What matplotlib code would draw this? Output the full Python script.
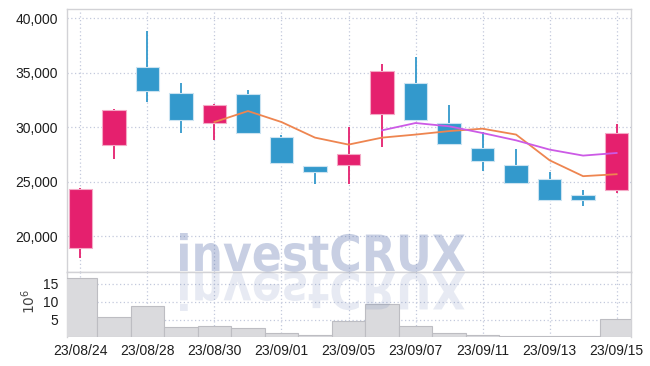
import matplotlib
matplotlib.use("Agg")
import matplotlib.pyplot as plt
from matplotlib.textpath import TextPath
from matplotlib.patches import PathPatch
from matplotlib.font_manager import FontProperties
from matplotlib.transforms import Affine2D

# datos
dates = ["23/08/24", "23/08/25", "23/08/28", "23/08/29", "23/08/30", "23/08/31",
         "23/09/01", "23/09/04", "23/09/05", "23/09/06", "23/09/07", "23/09/08",
         "23/09/11", "23/09/12", "23/09/13", "23/09/14", "23/09/15"]
opens = [18950, 28350, 35500, 33100, 30400, 33000, 29100, 26450, 26550,
         31200, 34050, 30400, 28100, 26500, 25200, 23750, 24250]
closes = [24350, 31600, 33300, 30700, 32000, 29450, 26700, 25850, 27500,
          35150, 30700, 28450, 26900, 24900, 23350, 23350, 29500]
highs = [24400, 31650, 38800, 34100, 32150, 33450, 29250, 26450, 30000,
         35800, 36400, 32000, 29600, 28000, 25900, 24200, 30250]
lows = [17950, 27050, 32300, 29500, 28800, 29450, 26700, 24750, 24800,
        28200, 30600, 28400, 25950, 24850, 23330, 22750, 23950]
volumes = [16.6, 5.8, 8.7, 2.9, 3.2, 2.6, 1.2, 0.6, 4.6,
           9.4, 3.1, 1.3, 0.6, 0.55, 0.35, 0.35, 5.1]  # x 10^6
ma5 = [None, None, None, None, 30470, 31480, 30470, 29040, 28400,
       29040, 29320, 29640, 29860, 29320, 26960, 25500, 25680]
ma10 = [None] * 9 + [29710, 30380, 30080, 29460, 28790, 27940, 27390, 27630]

price_ticks = [20000, 25000, 30000, 35000, 40000]
vol_ticks = [5, 10, 15]

UP = "#E5206E"
DOWN = "#3399CC"
GRID = "#C3C9DC"
SPINE = "#D2D2D6"
TXT = "#1E1E1E"
FONT = ["Liberation Sans", "DejaVu Sans"]

fig = plt.figure(figsize=(6.5, 3.66), dpi=100)
ax = fig.add_axes([0.1026, 0.2568, 0.8682, 0.7186])
axv = fig.add_axes([0.1026, 0.0779, 0.8682, 0.1789], sharex=ax)

x = list(range(len(dates)))
colors = [UP if c >= o else DOWN for o, c in zip(opens, closes)]
edges = ["#F4A9C6" if c >= o else "#CBE3F1" for o, c in zip(opens, closes)]

# velas
ax.vlines(x, lows, highs, colors=colors, linewidth=1.3, zorder=3)
bottoms = [min(o, c) for o, c in zip(opens, closes)]
heights = [abs(c - o) for o, c in zip(opens, closes)]
ax.bar(x, heights, bottom=bottoms, width=0.7, color=colors,
       edgecolor=edges, linewidth=0.8, zorder=4)

# medias móviles
xi5 = [i for i, v in enumerate(ma5) if v is not None]
ax.plot(xi5, [ma5[i] for i in xi5], color="#EE8550", linewidth=1.3, zorder=5)
xi10 = [i for i, v in enumerate(ma10) if v is not None]
ax.plot(xi10, [ma10[i] for i in xi10], color="#CC5AE6", linewidth=1.3, zorder=5)

ax.set_xlim(-0.41, 16.43)
ax.set_ylim(16700, 40850)
ax.set_yticks(price_ticks)
ax.set_yticklabels([f"{t:,}" for t in price_ticks])

# volumen
axv.bar(x, volumes, width=1.0, color="#DADADD", edgecolor="#BDBDC2",
        linewidth=0.8, zorder=3)
axv.set_ylim(0, 18.3)
axv.set_yticks(vol_ticks)
axv.set_yticklabels([str(t) for t in vol_ticks])
axv.set_ylabel("$10^6$", fontsize=10, color="#444444")
axv.yaxis.set_label_coords(-0.051, 0.55)

axv.set_xticks(x[::2])
axv.set_xticklabels(dates[::2])
ax.tick_params(axis="x", labelbottom=False)

for a in (ax, axv):
    a.grid(True, color=GRID, linestyle=(0, (1, 2)), linewidth=0.9)
    a.set_axisbelow(True)
    a.tick_params(length=0, pad=6, labelcolor=TXT)
    for lab in a.get_xticklabels() + a.get_yticklabels():
        lab.set_fontfamily(FONT)
        lab.set_fontsize(10)
    for s in a.spines.values():
        s.set_color(SPINE)
        s.set_linewidth(1.0)
axv.spines["bottom"].set_visible(False)
axv.tick_params(axis="x", pad=5)

# marca de agua con reflejo
tp = TextPath((0, 0), "investCRUX", size=100,
              prop=FontProperties(family="DejaVu Sans", weight="bold"))
bb = tp.get_extents()
sx = 285 / bb.width
sy = 38 / bb.y1
tr = (Affine2D().translate(-bb.x0, 0).scale(sx / 100, sy / 100)
      .translate(180 / 100, 95 / 100) + fig.dpi_scale_trans)
fig.add_artist(PathPatch(tp, transform=tr, facecolor="#5870AC",
                         edgecolor="none", alpha=0.33, zorder=6))
tr2 = (Affine2D().translate(-bb.x0, 0).scale(sx / 100, -sy / 100)
       .translate(180 / 100, 93 / 100) + fig.dpi_scale_trans)
fig.add_artist(PathPatch(tp, transform=tr2, facecolor="#5870AC",
                         edgecolor="none", alpha=0.14, zorder=6))

fig.savefig("out.png", dpi=100)
